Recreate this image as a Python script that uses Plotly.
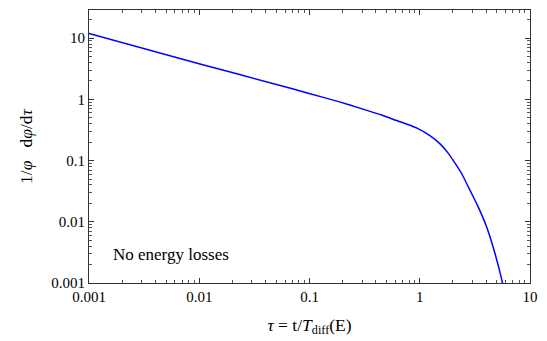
import plotly.graph_objects as go

tau = [0.001, 0.00995, 0.0521, 0.099, 0.1804, 0.300, 0.4577, 0.6245, 0.768, 0.945, 1.236, 1.521,
       1.794, 2.074, 2.398, 2.829, 3.340, 4.022, 4.747, 5.602, 5.70]
rate = [11.9, 3.83, 1.72, 1.25, 0.928, 0.700, 0.549, 0.447, 0.392, 0.338, 0.255, 0.189,
        0.135, 0.0928, 0.0615, 0.0338, 0.01854, 0.00845, 0.00331, 0.00104, 0.00088]

x_ticks = [0.001, 0.01, 0.1, 1, 10]
x_labels = ["0.001", "0.01", "0.1", "1", "10"]
y_ticks = [0.001, 0.01, 0.1, 1, 10]
y_labels = ["0.001", "0.01", "0.1", "1", "10"]

FONT = "Liberation Serif"

minor_x = [m * 10.0 ** e for e in range(-3, 1) for m in range(2, 10)]
minor_y = [m * 10.0 ** e for e in range(-3, 2) for m in range(2, 10)]

fig = go.Figure()
fig.add_trace(go.Scatter(x=tau, y=rate, mode="lines",
                         line=dict(color="#0000ff", width=1.5, shape="spline", smoothing=0.5),
                         showlegend=False, hoverinfo="skip"))

axis_common = dict(
    type="log", showgrid=False, zeroline=False, showline=True, linecolor="#333333", linewidth=1,
    mirror="ticks", ticks="inside", ticklen=5, tickcolor="#333333",
    tickfont=dict(family=FONT, size=15, color="black"),
)

fig.update_xaxes(range=[-3, 1], tickvals=x_ticks, ticktext=x_labels,
                 minor=dict(ticks="inside", ticklen=3, tickcolor="#555555", showgrid=False, tickvals=minor_x),
                 title=dict(text="<i>τ</i> = t/<i>T</i><sub>diff</sub>(E)", font=dict(family=FONT, size=17.5, color="black"), standoff=14),
                 **axis_common)
fig.update_yaxes(range=[-3, 1.46], tickvals=y_ticks, ticktext=y_labels,
                 minor=dict(ticks="inside", ticklen=3, tickcolor="#555555", showgrid=False, tickvals=minor_y),
                 title=dict(text="1/<i>φ</i>&nbsp;&nbsp; d<i>φ</i>/d<i>τ</i>", font=dict(family=FONT, size=17.5, color="black"), standoff=14),
                 **axis_common)

fig.add_annotation(text="No energy losses", xref="paper", yref="paper", x=0.05, y=0.105,
                   xanchor="left", yanchor="middle", showarrow=False,
                   font=dict(family=FONT, size=17, color="black"))

fig.update_layout(width=547, height=341, margin=dict(l=89, r=13, t=9, b=58),
                  plot_bgcolor="white", paper_bgcolor="white")

fig.write_html("out.html")
